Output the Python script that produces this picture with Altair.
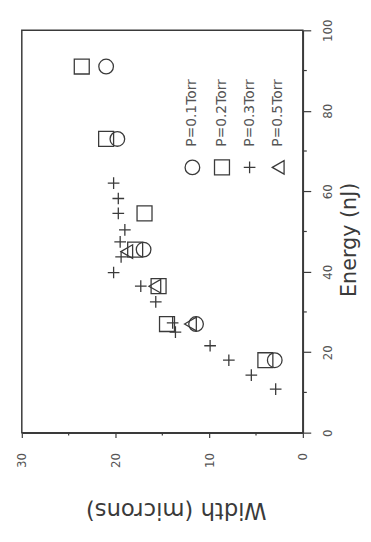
import altair as alt
import pandas as pd

series_names = ["P=0.1Torr", "P=0.2Torr", "P=0.3Torr", "P=0.5Torr"]

# energy (nJ) and width (microns) per series
e_01 = [91, 73, 45.5, 27, 18]
w_01 = [21.0, 19.8, 17.0, 11.4, 3.0]

e_02 = [91, 73, 54.5, 45.5, 36.4, 27, 18]
w_02 = [23.6, 21.0, 16.9, 17.9, 15.4, 14.5, 4.0]

e_03 = [62, 58.2, 54.5, 50.4, 47.4, 43.7, 39.8, 36.4, 32.5, 27.3, 25, 21.6, 18, 14.3, 10.8]
w_03 = [20.2, 19.7, 19.7, 19.0, 19.5, 19.4, 20.2, 17.3, 15.7, 13.9, 13.6, 9.9, 7.9, 5.5, 2.9]

e_05 = [45, 36.4, 27]
w_05 = [18.8, 15.8, 12.0]

energy_ticks = [0, 20, 40, 60, 80, 100]
energy_minor = [10, 30, 50, 70, 90]
width_ticks = [0, 10, 20, 30]
width_minor = [5, 15, 25]

INK = "#3a3a3a"
LAB = "#555555"
FONT = "DejaVu Sans"
PLUS = "M-1,0L1,0M0,-1L0,1"

x_scale = alt.Scale(domain=[0, 30], reverse=True, nice=False, zero=False)
y_scale = alt.Scale(domain=[0, 100], nice=False, zero=False)

x_axis = alt.Axis(
    orient="bottom", values=width_ticks, title="Width  (microns)", grid=False,
    labelAngle=270, labelAlign="right", labelBaseline="middle",
    labelFont=FONT, labelFontSize=12, labelColor=LAB, labelPadding=15,
    tickSize=5, tickColor=INK, tickWidth=1.2, domainColor=INK, domainWidth=1.5,
    titleFont=FONT, titleFontSize=23, titleFontWeight="normal", titleColor=INK,
    titleAngle=180, titleX=156, titleY=78, titleAlign="center", titleBaseline="middle",
)
y_axis = alt.Axis(
    orient="right", values=energy_ticks, title="Energy  (nJ)", grid=False,
    labelAngle=270, labelAlign="center", labelBaseline="top",
    labelFont=FONT, labelFontSize=12, labelColor=LAB, labelPadding=12,
    tickSize=8, tickColor=INK, tickWidth=1.2, domainColor=INK, domainWidth=1.5,
    titleFont=FONT, titleFontSize=21, titleFontWeight="normal", titleColor=INK,
    titleAngle=270, titleX=47, titleY=212, titleAlign="center", titleBaseline="middle",
)

def xenc():
    return alt.X("width:Q", scale=x_scale, axis=x_axis)

def yenc():
    return alt.Y("energy:Q", scale=y_scale, axis=y_axis)

specs = [
    (e_01, w_01, "circle", 220),
    (e_02, w_02, "square", 230),
    (e_03, w_03, PLUS, 140),
    (e_05, w_05, "triangle-left", 190),
]

layers = []
for name, (es, ws, shp, sz) in zip(series_names, specs):
    df = pd.DataFrame({"energy": es, "width": ws, "series": name})
    layers.append(
        alt.Chart(df).mark_point(shape=shp, size=sz, filled=False, color=INK,
                                 strokeWidth=1.3, opacity=1)
        .encode(x=xenc(), y=yenc())
    )

# minor ticks
minor_e = alt.Chart(pd.DataFrame({"energy": energy_minor})).mark_rule(
    color=INK, strokeWidth=1.2).encode(y=yenc(), x=alt.value(285), x2=alt.value(289))
minor_w = alt.Chart(pd.DataFrame({"width": width_minor})).mark_rule(
    color=INK, strokeWidth=1.2).encode(x=xenc(), y=alt.value(408), y2=alt.value(411))
layers += [minor_e, minor_w]

# legend (rotated, inside the plot)
leg_x = [173, 203, 231, 260]
for name, (es, ws, shp, sz), lx in zip(series_names, specs, leg_x):
    ldf = pd.DataFrame({"series": [name]})
    layers.append(
        alt.Chart(ldf).mark_point(shape=shp, size=sz, filled=False, color=INK,
                                  strokeWidth=1.3, opacity=1)
        .encode(x=alt.value(lx), y=alt.value(139))
    )
    layers.append(
        alt.Chart(ldf).mark_text(angle=270, align="left", baseline="middle",
                                 font=FONT, fontSize=14, color=LAB)
        .encode(text="series:N", x=alt.value(lx), y=alt.value(118))
    )

chart = alt.layer(*layers).properties(
    width=285, height=408,
    autosize=alt.AutoSizeParams(type="none"),
    padding={"left": 14, "top": 19, "right": 61, "bottom": 88},
    background="white",
).configure_view(stroke=INK, strokeWidth=1.5)

chart.save("out.html", embed_options={"renderer": "svg", "actions": False})
